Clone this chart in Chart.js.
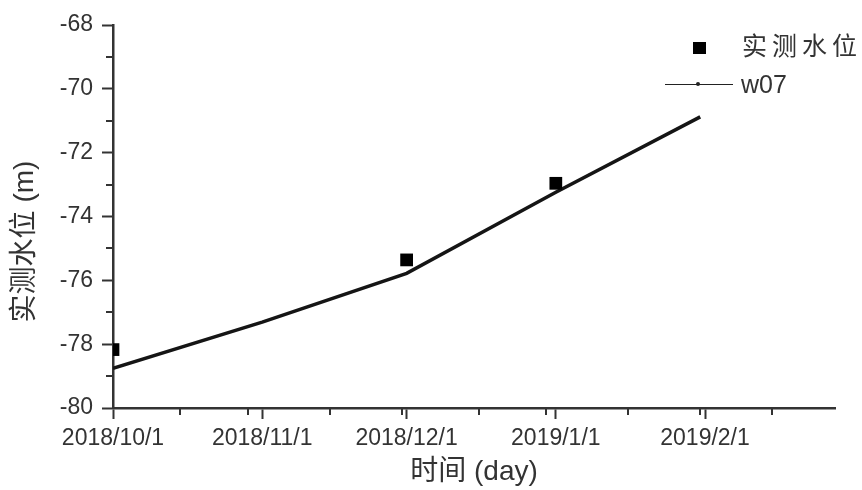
<!DOCTYPE html>
<html>
<head>
<meta charset="utf-8">
<script src="https://cdn.jsdelivr.net/npm/chart.js@4/dist/chart.umd.min.js"></script>
<style>
  body { margin: 0; background: #fff; }
  .wrap { position: relative; width: 862px; height: 490px; }
  canvas { position: absolute; left: 0; top: 0; }
  .legend { position: absolute; left: 0; top: 0; width: 862px; height: 490px; pointer-events: none;
            font-family: "Liberation Sans", Arial, "Noto Sans CJK SC", sans-serif; color: #333; }
  .sq { position: absolute; width: 13px; height: 12px; background: #000; }
  .ln { position: absolute; width: 68px; height: 0; border-top: 1.5px solid #222; }
  .ln::after { content: ''; position: absolute; left: 31px; top: -3px; width: 4px; height: 4px; border-radius: 2px; background: #222; }
  .lbl { position: absolute; font-size: 25px; line-height: 25px; white-space: nowrap; }
</style>
</head>
<body>
<div class="wrap">
  <canvas id="chart" width="862" height="490"></canvas>
  <div class="legend">
    <div class="sq" style="left:693px; top:42px;"></div>
    <div class="lbl" style="left:742px; top:34px; letter-spacing:5px;">实测水位</div>
    <div class="ln" style="left:665px; top:84px;"></div>
    <div class="lbl" style="left:741px; top:72px;">w07</div>
  </div>
</div>
<script>
// days counted from 2018/10/1
const tickDays = [0, 31, 61, 92, 123];
const tickLabels = ['2018/10/1', '2018/11/1', '2018/12/1', '2019/1/1', '2019/2/1'];
const minorDays = [14, 28, 45, 60, 76, 90, 107, 122, 137];
const yMinor = [-79, -77, -75, -73, -71, -69];

// measured water level
const measuredDays = [0, 61, 92];
const measuredLevels = [-78.17, -75.36, -72.96];

// simulated w07
const simDays = [0, 31, 61, 92, 122];
const simLevels = [-78.76, -77.31, -75.78, -73.24, -70.88];

const axisColor = '#333';
const tickFont = { family: '"Liberation Sans", Arial, sans-serif', size: 23 };
const titleFont = '"Liberation Sans", Arial, "Noto Sans CJK SC", sans-serif';

// short minor ticks + rotated y title
const extras = {
    id: 'extras',
    afterDraw(chart) {
        const { ctx, chartArea } = chart;
        const x = chart.scales.x;
        const y = chart.scales.y;
        ctx.save();
        ctx.strokeStyle = axisColor;
        ctx.lineWidth = 2;
        ctx.beginPath();
        minorDays.forEach(d => {
            const px = Math.round(x.getPixelForValue(d));
            ctx.moveTo(px, chartArea.bottom);
            ctx.lineTo(px, chartArea.bottom + 7);
        });
        yMinor.forEach(v => {
            const py = Math.round(y.getPixelForValue(v));
            ctx.moveTo(chartArea.left - 7, py);
            ctx.lineTo(chartArea.left, py);
        });
        ctx.stroke();

        ctx.translate(25, (chartArea.top + chartArea.bottom) / 2 + 25);
        ctx.rotate(-Math.PI / 2);
        ctx.font = '28px ' + titleFont;
        ctx.fillStyle = axisColor;
        ctx.textAlign = 'center';
        ctx.textBaseline = 'middle';
        ctx.fillText('实测水位 (m)', 0, 0);
        ctx.restore();
    }
};

const measured = measuredDays.map((d, i) => ({ x: d, y: measuredLevels[i] }));
const sim = simDays.map((d, i) => ({ x: d, y: simLevels[i] }));

new Chart(document.getElementById('chart'), {
    type: 'scatter',
    data: {
        datasets: [
            {
                label: '实测水位',
                data: measured,
                pointStyle: 'rect',
                pointRadius: 9,
                pointBackgroundColor: '#000',
                pointBorderWidth: 0,
                clip: { left: 0, top: false, right: false, bottom: false }
            },
            {
                label: 'w07',
                data: sim,
                showLine: true,
                borderColor: '#151515',
                borderWidth: 3.5,
                pointRadius: 0,
                tension: 0
            }
        ]
    },
    options: {
        responsive: false,
        animation: false,
        layout: { padding: { top: 25, right: 27, left: 0, bottom: 0 } },
        plugins: { legend: { display: false }, tooltip: { enabled: false } },
        scales: {
            x: {
                type: 'linear',
                min: 0,
                max: 150,
                afterBuildTicks: s => { s.ticks = tickDays.map(v => ({ value: v })); },
                afterFit: s => { s.height = 82; },
                ticks: {
                    callback: v => tickLabels[tickDays.indexOf(v)],
                    font: tickFont,
                    color: axisColor,
                    padding: 6,
                    maxRotation: 0,
                    autoSkip: false
                },
                grid: { drawOnChartArea: false, tickLength: 11, tickWidth: 2, tickColor: axisColor },
                border: { color: axisColor, width: 2.5 },
                title: {
                    display: true,
                    text: '时间 (day)',
                    font: { family: titleFont, size: 28 },
                    color: axisColor,
                    padding: { top: 0, bottom: 1 }
                }
            },
            y: {
                min: -80,
                max: -68,
                afterFit: s => { s.width = 113; },
                ticks: { stepSize: 2, font: tickFont, color: axisColor, padding: 9 },
                grid: { drawOnChartArea: false, tickLength: 11, tickWidth: 2, tickColor: axisColor },
                border: { color: axisColor, width: 2.5 }
            }
        }
    },
    plugins: [extras]
});
</script>
</body>
</html>
